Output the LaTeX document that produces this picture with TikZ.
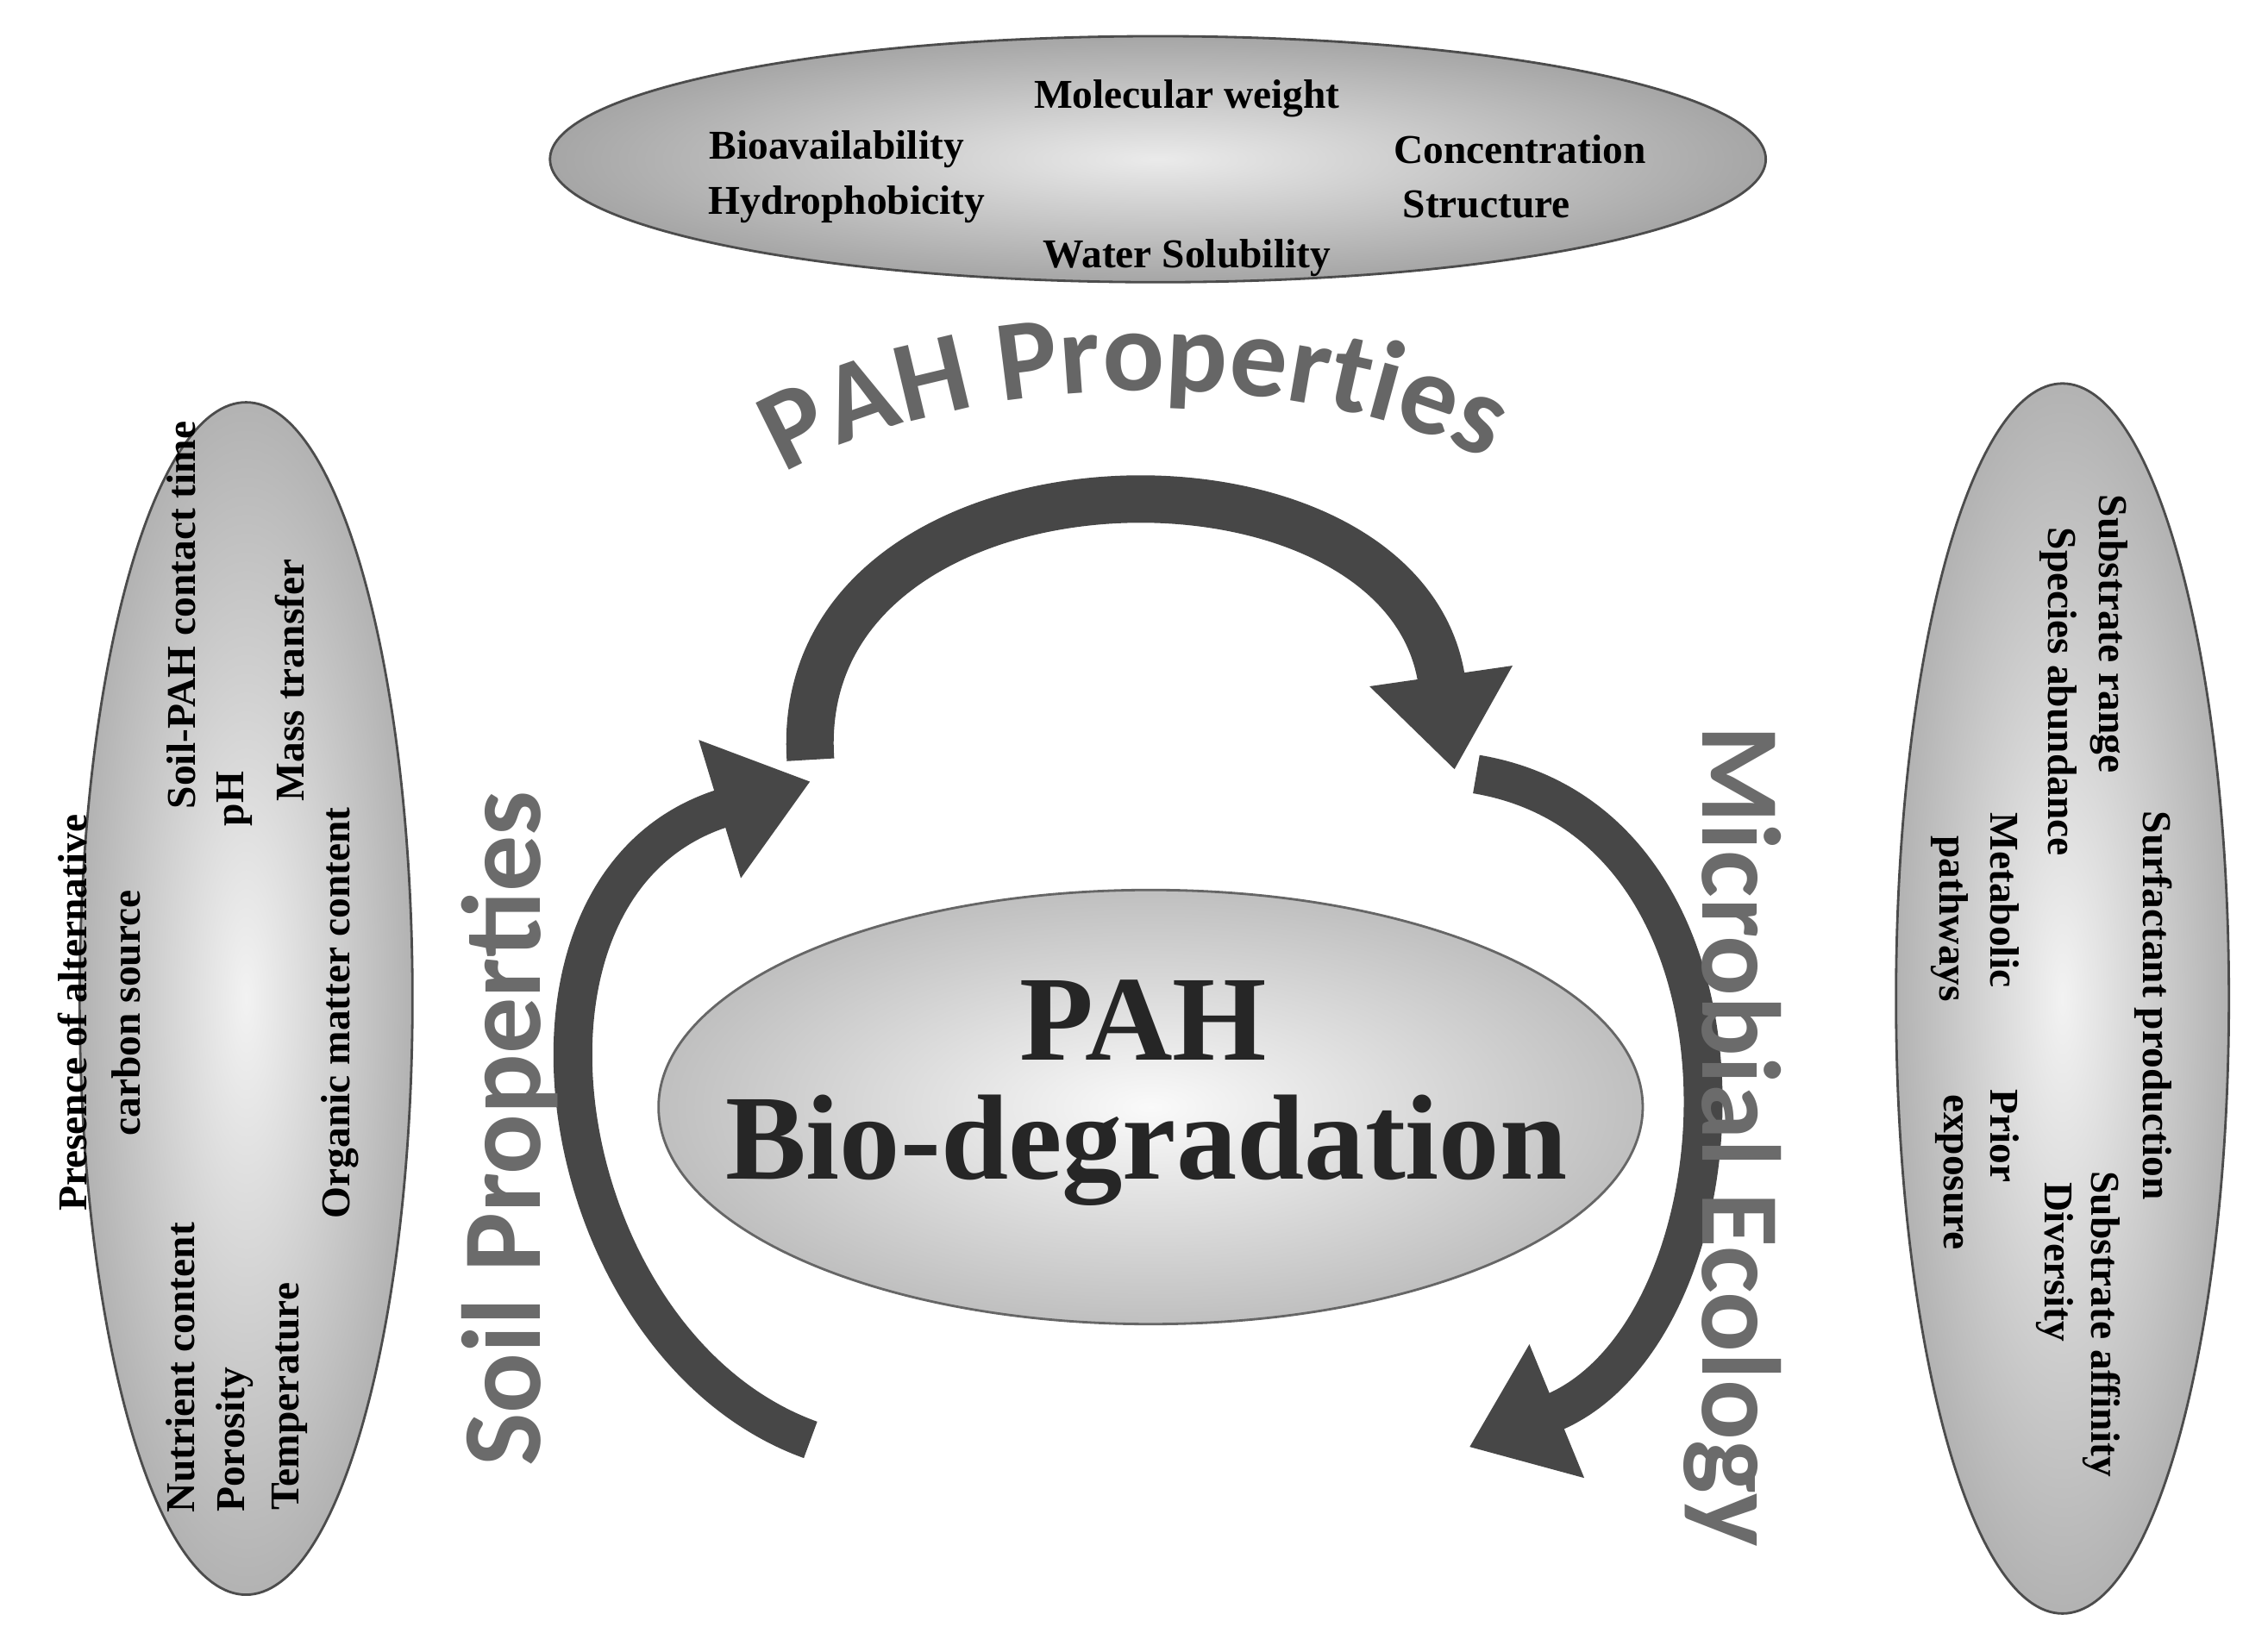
\documentclass[tikz,border=0pt]{standalone}
\usepackage{fontspec}
\setmainfont{Liberation Serif}
\newfontfamily\sansb{Carlito}
\usetikzlibrary{arrows.meta,decorations.text,shapes.geometric}
\begin{document}
\begin{tikzpicture}[x=0.016784cm,y=-0.016784cm,
  lbl/.style={font=\bfseries\fontsize{13.5}{16}\selectfont,inner sep=1pt},
  big/.style={font=\sansb\bfseries\fontsize{37}{40}\selectfont,text=black!58},
  arr/.style={draw=black!72,line width=0.55cm,-{Triangle[length=1.1cm,width=1.6cm]}}]
\useasboundingbox (0,0) rectangle (1567,1128);
% ellipses
\shade[inner color=black!8,outer color=black!35,draw=black!70,line width=0.8pt] (800,110) ellipse [x radius=420,y radius=-85];
\shade[inner color=black!5,outer color=black!30,draw=black!70,line width=0.8pt] (170,690) ellipse [x radius=115,y radius=-412];
\shade[inner color=black!5,outer color=black!30,draw=black!70,line width=0.8pt] (1425,690) ellipse [x radius=115,y radius=-425];
% arrows
\coordinate (t1) at (560,525); \coordinate (t2) at (1005,532);
\coordinate (l1) at (560,995); \coordinate (l2) at (560,540);
\coordinate (r1) at (1020,535); \coordinate (r2) at (1015,1000);
\draw[arr] (t1) .. controls (545,300) and (970,290) .. (t2);
\draw[arr,line width=0.45cm] (l1) .. controls (380,930) and (330,610) .. (l2);
\draw[arr,line width=0.45cm] (r1) .. controls (1230,570) and (1210,920) .. (r2);
\shade[inner color=black!2,outer color=black!25,draw=black!60,line width=0.8pt] (795,765) ellipse [x radius=340,y radius=-150];
% top texts
\node[lbl] (mw) at (820,68) {Molecular weight};
\node[lbl] (bio) at (578,103) {Bioavailability};
\node[lbl] (conc) at (1050,103) {Concentration};
\node[lbl] (hyd) at (585,141) {Hydrophobicity};
\node[lbl] (str) at (1027,141) {Structure};
\node[lbl] (ws) at (820,178) {Water Solubility};
% left texts
\node[lbl,rotate=90] (pres) at (50,700) {Presence of alternative};
\node[lbl,rotate=90] (carb) at (87,700) {carbon source};
\node[lbl,rotate=90] (spah) at (125,425) {Soil-PAH contact time};
\node[lbl,rotate=90] (ph) at (162,552) {pH};
\node[lbl,rotate=90] (mass) at (200,470) {Mass transfer};
\node[lbl,rotate=90] (org) at (235,700) {Organic matter content};
\node[lbl,rotate=90] (nut) at (125,945) {Nutrient content};
\node[lbl,rotate=90] (por) at (162,995) {Porosity};
\node[lbl,rotate=90] (temp) at (200,965) {Temperature};
% right texts
\node[lbl,rotate=-90] (surf) at (1488,695) {Surfactant production};
\node[lbl,rotate=-90] (subr) at (1457,438) {Substrate range};
\node[lbl,rotate=-90] (spec) at (1422,478) {Species abundance};
\node[lbl,rotate=-90] (meta) at (1385,622) {Metabolic};
\node[lbl,rotate=-90] (path) at (1347,635) {pathways};
\node[lbl,rotate=-90] (prior) at (1385,785) {Prior};
\node[lbl,rotate=-90] (expo) at (1347,810) {exposure};
\node[lbl,rotate=-90] (suba) at (1452,915) {Substrate affinity};
\node[lbl,rotate=-90] (div) at (1420,872) {Diversity};
% center
\node[font=\bfseries\fontsize{40}{44}\selectfont,text=black!85] (pah) at (790,705) {PAH};
\node[font=\bfseries\fontsize{40}{44}\selectfont,text=black!85] (bd) at (792,795) {Bio-degradation};
% curved titles
\path[decorate,decoration={text along path,text align=center,
  text={|\sansb\bfseries\fontsize{38}{40}\selectfont\color{black!60}|PAH Properties}}]
  (530,335) .. controls (650,255) and (900,245) .. (1040,325);
\node[big,rotate=90] (soil) at (352,780) {Soil Properties};
\node[big,rotate=-90] (micro) at (1197,785) {Microbial Ecology};
\end{tikzpicture}
\end{document}
